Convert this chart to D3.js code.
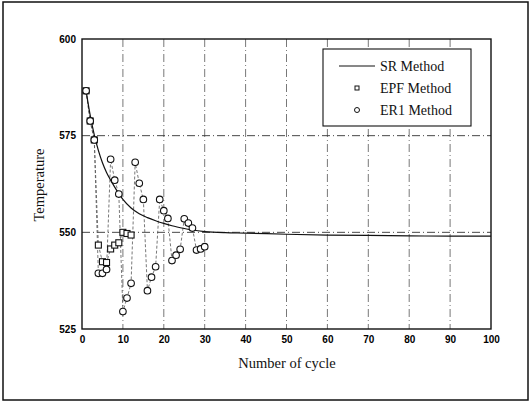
<!DOCTYPE html>
<html><head><meta charset="utf-8">
<script src="https://cdn.jsdelivr.net/npm/d3@7"></script>
<style>body{margin:0;background:#fff}</style>
</head><body>
<script>
// ---- data ----
const xTicks = [0,10,20,30,40,50,60,70,80,90,100];
const yTicks = [525,550,575,600];
const gridY = [550,575];
const srCycles = [1,2,3,4,5,6,7,8,9,10,12,14,16,18,20,22,25,27,30,35,40,50,60,70,80,90,100];
const srValues = [586.6,580.3,575.2,571.2,568.0,565.5,563.5,561.7,560.0,558.5,556.3,554.8,553.8,553.0,552.3,551.7,551.0,550.6,550.2,549.9,549.8,549.5,549.3,549.2,549.1,549.0,549.0];
const epfCycles = [1,2,3,4,5,6,7,8,9,10,11,12];
const epfValues = [586.6,578.8,573.9,546.7,542.4,542.2,545.7,546.7,547.3,550.0,549.7,549.3];
const er1Cycles = [1,2,3,4,5,6,7,8,9,10,11,12,13,14,15,16,17,18,19,20,21,22,23,24,25,26,27,28,29,30];
const er1Values = [586.6,578.8,573.9,539.4,539.4,540.4,568.9,563.5,559.9,529.5,533.0,536.8,568.1,562.7,558.5,534.9,538.4,541.1,558.5,555.6,553.6,542.7,544.1,545.6,553.5,552.4,551.1,545.4,545.7,546.3];
const legendLabels = ["SR Method","EPF Method","ER1 Method"];

const W=531,H=403;
const svg=d3.select("body").append("svg").attr("width",W).attr("height",H);
svg.append("rect").attr("x",3).attr("y",2).attr("width",525).attr("height",398)
  .attr("fill","#fff").attr("stroke","#111").attr("stroke-width",1.5);

const x=d3.scaleLinear().domain([0,100]).range([82,491]);
const y=d3.scaleLinear().domain([525,600]).range([329,39]);

const g=svg.append("g");
// gridlines
g.selectAll(".gx").data(xTicks.filter(d=>d>0&&d<100)).join("line")
  .attr("x1",d=>x(d)).attr("x2",d=>x(d)).attr("y1",y(600)).attr("y2",y(525))
  .attr("stroke","#555").attr("stroke-width",0.8).attr("stroke-dasharray","8,3,1,3");
g.selectAll(".gy").data(gridY).join("line")
  .attr("x1",x(0)).attr("x2",x(100)).attr("y1",d=>y(d)).attr("y2",d=>y(d))
  .attr("stroke","#333").attr("stroke-width",0.9).attr("stroke-dasharray","8,3,1,3");

// axes
const xa=g.append("g").attr("transform",`translate(0,${y(525)})`)
  .call(d3.axisBottom(x).tickValues(xTicks).tickSize(0).tickPadding(7));
const ya=g.append("g").attr("transform",`translate(${x(0)},0)`)
  .call(d3.axisLeft(y).tickValues(yTicks).tickSize(0).tickPadding(6));
[xa,ya].forEach(a=>{a.select(".domain").remove();
  a.selectAll("text").attr("font-family","Liberation Sans, Arial, sans-serif")
   .attr("font-weight","bold").attr("font-size",10).attr("fill","#000");});
// plot frame
g.append("rect").attr("x",x(0)).attr("y",y(600)).attr("width",x(100)-x(0)).attr("height",y(525)-y(600))
  .attr("fill","none").attr("stroke","#111").attr("stroke-width",1.4);

// connecting dashed lines
const ptsE=epfCycles.map((c,i)=>[c,epfValues[i]]);
const ptsR=er1Cycles.map((c,i)=>[c,er1Values[i]]);
const ln=d3.line().x(d=>x(d[0])).y(d=>y(d[1]));
g.append("path").attr("d",ln(ptsR)).attr("fill","none").attr("stroke","#555")
  .attr("stroke-width",0.8).attr("stroke-dasharray","3,2");
g.append("path").attr("d",ln(ptsE)).attr("fill","none").attr("stroke","#555")
  .attr("stroke-width",0.8).attr("stroke-dasharray","3,2");

// SR curve
const ptsS=srCycles.map((c,i)=>[c,srValues[i]]);
g.append("path").attr("d",d3.line().curve(d3.curveMonotoneX).x(d=>x(d[0])).y(d=>y(d[1]))(ptsS))
  .attr("fill","none").attr("stroke","#111").attr("stroke-width",1.2);

// markers
g.selectAll(".sq").data(ptsE).join("rect")
  .attr("x",d=>x(d[0])-3).attr("y",d=>y(d[1])-3).attr("width",6).attr("height",6)
  .attr("fill","#fff").attr("stroke","#111").attr("stroke-width",1.1);
g.selectAll(".ci").data(ptsR).join("circle")
  .attr("cx",d=>x(d[0])).attr("cy",d=>y(d[1])).attr("r",3.3)
  .attr("fill","#fff").attr("stroke","#111").attr("stroke-width",1.1);

// axis titles
svg.append("text").attr("x",287).attr("y",368).attr("text-anchor","middle")
  .attr("font-family","Liberation Serif, Times New Roman, serif").attr("font-size",14.5).attr("fill","#111")
  .text("Number of cycle");
svg.append("text").attr("transform","translate(44,185) rotate(-90)").attr("text-anchor","middle")
  .attr("font-family","Liberation Serif, Times New Roman, serif").attr("font-size",14.5).attr("fill","#111")
  .text("Temperature");

// legend
const lg=svg.append("g");
lg.append("rect").attr("x",323).attr("y",49).attr("width",148).attr("height",77)
  .attr("fill","#fff").attr("stroke","#111").attr("stroke-width",1.1);
const ly=[66,88,110];
lg.append("line").attr("x1",339).attr("x2",375).attr("y1",ly[0]).attr("y2",ly[0]).attr("stroke","#111").attr("stroke-width",1);
lg.append("rect").attr("x",355).attr("y",ly[1]-2).attr("width",4).attr("height",4).attr("fill","#fff").attr("stroke","#111").attr("stroke-width",1);
lg.append("circle").attr("cx",357).attr("cy",ly[2]).attr("r",2.5).attr("fill","#fff").attr("stroke","#111").attr("stroke-width",1);
lg.selectAll(".lt").data(legendLabels).join("text")
  .attr("x",380).attr("y",(d,i)=>ly[i]+5)
  .attr("font-family","Liberation Serif, Times New Roman, serif").attr("font-size",14).attr("fill","#111")
  .text(d=>d);
</script>
</body></html>
